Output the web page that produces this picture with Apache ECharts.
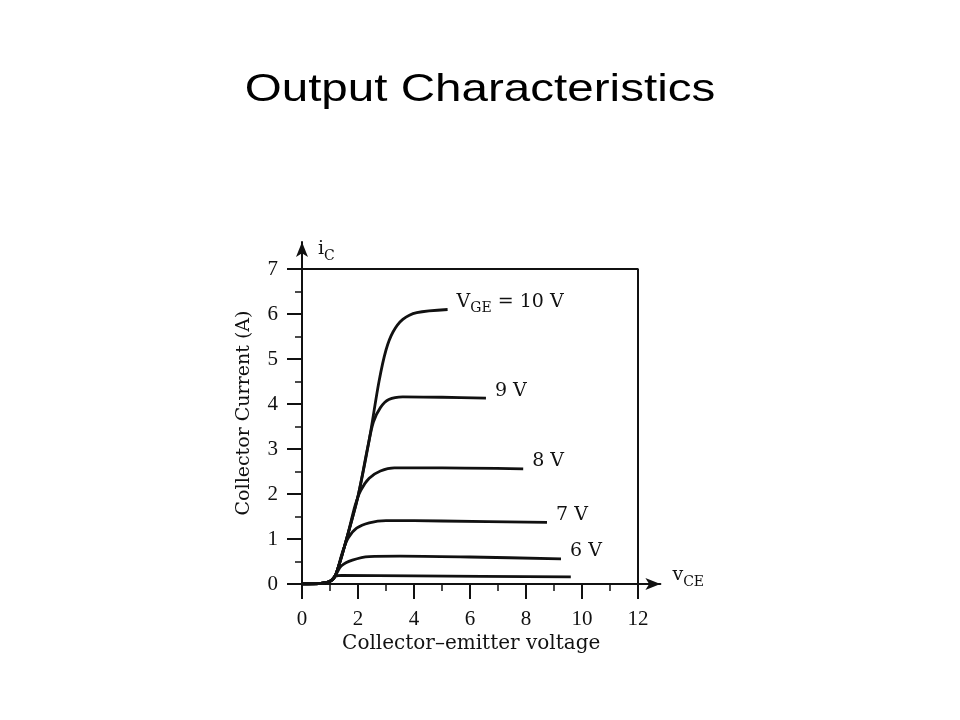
<!DOCTYPE html>
<html><head><meta charset="utf-8">
<script src="https://cdn.jsdelivr.net/npm/echarts@6/dist/echarts.min.js"></script>
<style>html,body{margin:0;padding:0;background:#fff}#c{width:960px;height:720px}</style>
</head><body><div id="c"></div>
<script>
// ---- data ----
const titleText = 'Output Characteristics';
const xMajorTicks = [0, 2, 4, 6, 8, 10, 12];
const xMinorTicks = [1, 3, 5, 7, 9, 11];
const yMajorTicks = [0, 1, 2, 3, 4, 5, 6, 7];
const yMinorTicks = [0.5, 1.5, 2.5, 3.5, 4.5, 5.5, 6.5];
const frameBox = [[0, 7], [12, 7], [12, 0]];
const curve10V = [[0,0],[0.6,0.01],[1.0,0.06],[1.2,0.2],[1.6,1.02],[2.0,1.95],[2.4,3.2],[2.75,4.5],[3.0,5.2],[3.25,5.6],[3.6,5.88],[4.1,6.03],[5.2,6.1]];
const curve9V = [[0,0],[0.6,0.01],[1.0,0.06],[1.2,0.2],[1.6,1.02],[2.0,1.95],[2.35,3.05],[2.55,3.6],[2.8,3.92],[3.1,4.1],[3.6,4.16],[5.0,4.15],[6.57,4.13]];
const curve8V = [[0,0],[0.6,0.01],[1.0,0.06],[1.2,0.2],[1.6,1.02],[1.9,1.75],[2.1,2.08],[2.4,2.35],[2.8,2.51],[3.3,2.58],[5.0,2.58],[7.9,2.56]];
const curve7V = [[0,0],[0.6,0.01],[1.0,0.06],[1.2,0.2],[1.45,0.72],[1.65,1.02],[1.95,1.24],[2.4,1.36],[3.0,1.41],[5.0,1.4],[8.75,1.37]];
const curve6V = [[0,0],[0.6,0.01],[1.0,0.06],[1.2,0.2],[1.4,0.4],[1.8,0.53],[2.4,0.61],[3.5,0.62],[6.0,0.6],[9.25,0.56]];
const curve5V = [[0,0],[0.6,0.01],[1.0,0.06],[1.2,0.17],[1.4,0.19],[4.0,0.18],[9.6,0.16]];
const curveLabels = ['{a|V}{sub|GE}{a| = 10 V}', '{a|9 V}', '{a|8 V}', '{a|7 V}', '{a|6 V}', ''];

// ---- chart ----
const SERIF = '"DejaVu Serif", "Liberation Serif", serif';
const TIMES = '"Liberation Serif", "DejaVu Serif", serif';
const INK = '#111';
const rich = {
  a: {fontFamily: SERIF, fontSize: 19, color: INK, verticalAlign: 'top', lineHeight: 24},
  sub: {fontFamily: SERIF, fontSize: 14, color: INK, verticalAlign: 'top', padding: [9, 0, 0, 0], lineHeight: 24}
};
const curves = [curve10V, curve9V, curve8V, curve7V, curve6V, curve5V];
const series = curves.map((d, i) => ({
  type: 'line', data: d, symbol: 'none', smooth: 0.3,
  lineStyle: {color: INK, width: 2.8}, z: 3,
  endLabel: {
    show: curveLabels[i] !== '', formatter: () => curveLabels[i],
    distance: 9, offset: [0, -5], rich: rich, align: 'left'
  }
}));
series.push({
  type: 'line', data: frameBox, symbol: 'none', lineStyle: {color: INK, width: 2}, z: 2, silent: true
});

const chart = echarts.init(document.getElementById('c'), null, {renderer: 'canvas'});
chart.setOption({
  backgroundColor: '#fff',
  animation: false,
  graphic: [{
    type: 'text', x: 480, y: 71, scaleX: 1.22,
    style: {text: titleText, align: 'center', verticalAlign: 'top',
      font: 'normal 39px "Liberation Sans", Arial, sans-serif', fill: '#000'}
  }],
  grid: {left: 302, top: 242, width: 358.4, height: 342, outerBoundsMode: 'none', containLabel: false},
  xAxis: [{
    type: 'value', min: 0, max: 12.8,
    axisLine: {show: true, symbol: ['none', 'arrow'], symbolSize: [9, 15], lineStyle: {color: INK, width: 2}},
    axisTick: {show: true, customValues: xMajorTicks, length: 15, lineStyle: {color: INK, width: 2}},
    axisLabel: {show: true, customValues: xMajorTicks, margin: 25, fontFamily: TIMES, fontSize: 21, color: INK},
    splitLine: {show: false},
    name: 'Collector\u2013emitter voltage', nameLocation: 'middle', nameGap: 50,
    nameTextStyle: {fontFamily: SERIF, fontSize: 20, color: INK, padding: [0, 20, 0, 0]}
  }, {
    type: 'value', min: 0, max: 12.8, position: 'bottom',
    axisLine: {show: false},
    axisTick: {show: true, customValues: xMinorTicks, length: 7, lineStyle: {color: INK, width: 1.5}},
    axisLabel: {show: false}, splitLine: {show: false},
    name: '{a|v}{sub|CE}', nameLocation: 'end', nameGap: 12,
    nameTextStyle: {rich: rich, padding: [0, 0, 12, 0]}
  }],
  yAxis: [{
    type: 'value', min: 0, max: 7.6,
    axisLine: {show: true, symbol: ['none', 'arrow'], symbolSize: [9, 15], lineStyle: {color: INK, width: 2}},
    axisTick: {show: true, customValues: yMajorTicks, length: 15, lineStyle: {color: INK, width: 2}},
    axisLabel: {show: true, customValues: yMajorTicks, margin: 24, fontFamily: TIMES, fontSize: 21, color: INK},
    splitLine: {show: false},
    name: 'Collector Current (A)', nameLocation: 'middle', nameGap: 48, nameRotate: 90,
    nameTextStyle: {fontFamily: SERIF, fontSize: 19, color: INK}
  }, {
    type: 'value', min: 0, max: 7.6, position: 'left',
    axisLine: {show: false},
    axisTick: {show: true, customValues: yMinorTicks, length: 7, lineStyle: {color: INK, width: 1.5}},
    axisLabel: {show: false}, splitLine: {show: false},
    name: '{a|i}{sub|C}', nameLocation: 'end', nameGap: -22,
    nameTextStyle: {rich: rich, align: 'left', padding: [0, 0, 0, 16]}
  }],
  series: series
});
</script>
</body></html>
